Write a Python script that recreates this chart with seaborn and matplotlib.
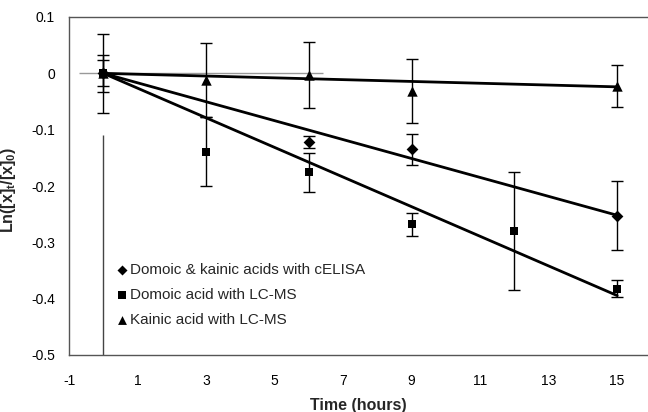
import matplotlib
matplotlib.use("Agg")
import matplotlib.pyplot as plt
import seaborn as sns
import pandas as pd
import numpy as np

# ---- data ----
celisa_x = [0, 6, 9, 15]
celisa_y = [0.0, -0.122, -0.135, -0.253]
celisa_err = [0.023, 0.011, 0.028, 0.061]

lcms_da_x = [0, 3, 6, 9, 12, 15]
lcms_da_y = [0.0, -0.139, -0.176, -0.268, -0.280, -0.382]
lcms_da_err = [0.033, 0.061, 0.034, 0.020, 0.105, 0.015]

lcms_ka_x = [0, 3, 6, 9, 15]
lcms_ka_y = [0.0, -0.012, -0.003, -0.031, -0.022]
lcms_ka_err = [0.070, 0.066, 0.058, 0.057, 0.037]

# fitted trend lines (through origin): slope per hour
trend_x = [0, 15]
celisa_slope = -0.0168
lcms_da_slope = -0.0263
lcms_ka_slope = -0.0016

labels = ["Domoic & kainic acids with cELISA",
          "Domoic acid with LC-MS",
          "Kainic acid with LC-MS"]
x_ticks = [-1, 1, 3, 5, 7, 9, 11, 13, 15]
y_ticks = [0.1, 0, -0.1, -0.2, -0.3, -0.4, -0.5]
y_tick_labels = ["0.1", "0", "-0.1", "-0.2", "-0.3", "-0.4", "-0.5"]

sns.set_theme(style="white")
plt.rcParams['font.family'] = ['Liberation Sans', 'DejaVu Sans']
plt.rcParams['mathtext.fontset'] = 'custom'
plt.rcParams['mathtext.bf'] = 'Liberation Sans:bold'
plt.rcParams['mathtext.rm'] = 'Liberation Sans:bold'

fig = plt.figure(figsize=(6.48, 4.12), dpi=100)
ax = fig.add_axes([69/648, 1-355/412, 1-69/648, (355-17)/412])

frame_col = "#555555"
# reference lines
ax.hlines(0, -0.7, 6.4, color="#999999", lw=1.0, zorder=1)
ax.vlines(0, -0.5, -0.109, color="#444444", lw=1.0, zorder=1)

series = [
    (celisa_x, celisa_y, celisa_err, "D", 36, celisa_slope),
    (lcms_da_x, lcms_da_y, lcms_da_err, "s", 36, lcms_da_slope),
    (lcms_ka_x, lcms_ka_y, lcms_ka_err, "^", 56, lcms_ka_slope),
]

for (xs, ys, es, m, s, slope), lab in zip(series, labels):
    ax.errorbar(xs, ys, yerr=es, fmt="none", ecolor="black", elinewidth=1.0,
                capsize=4, capthick=1.0, zorder=2)
    tx = np.array(trend_x, dtype=float)
    df_line = pd.DataFrame({"x": tx, "y": slope * tx})
    sns.lineplot(data=df_line, x="x", y="y", ax=ax, color="black", lw=2.0,
                 zorder=3, legend=False)
    df = pd.DataFrame({"x": xs, "y": ys})
    sns.scatterplot(data=df, x="x", y="y", ax=ax, marker=m, s=s, color="black",
                    edgecolor="black", linewidth=0, zorder=4, label=lab)

ax.set_xlim(-1, 15.9)
ax.set_ylim(-0.5, 0.1)
ax.set_xticks(x_ticks)
ax.set_xticklabels([str(v) for v in x_ticks], fontsize=10)
ax.set_yticks(y_ticks)
ax.set_yticklabels(y_tick_labels, fontsize=10)
ax.tick_params(axis="both", which="both", length=3, width=0.8, color=frame_col,
               direction="in", labelcolor="black")
ax.tick_params(axis="y", pad=10)
ax.tick_params(axis="x", pad=14)

for side in ["left", "top", "bottom"]:
    ax.spines[side].set_visible(True)
    ax.spines[side].set_color(frame_col)
    ax.spines[side].set_linewidth(1.0)
ax.spines["right"].set_visible(False)

ax.set_xlabel("Time (hours)", fontsize=11.5, fontweight="bold", labelpad=7)
ax.set_ylabel(r"Ln([x]$_\mathbf{t}$/[x]$_\mathbf{0}$)", fontsize=11.5,
              fontweight="bold")
ax.yaxis.set_label_coords(18/648, 1-190/412, transform=fig.transFigure)

leg = ax.legend(loc="upper left", bbox_to_anchor=(104/648, 1-252/412),
                bbox_transform=fig.transFigure, frameon=True, fontsize=11,
                handletextpad=0.1, labelspacing=0.72, borderpad=0.2,
                handlelength=0.9, markerscale=0.85)
leg.get_frame().set_facecolor("white")
leg.get_frame().set_edgecolor("none")
leg.get_frame().set_alpha(1.0)
leg.set_zorder(5)
ax.grid(False)

fig.savefig("out.png", dpi=100)
